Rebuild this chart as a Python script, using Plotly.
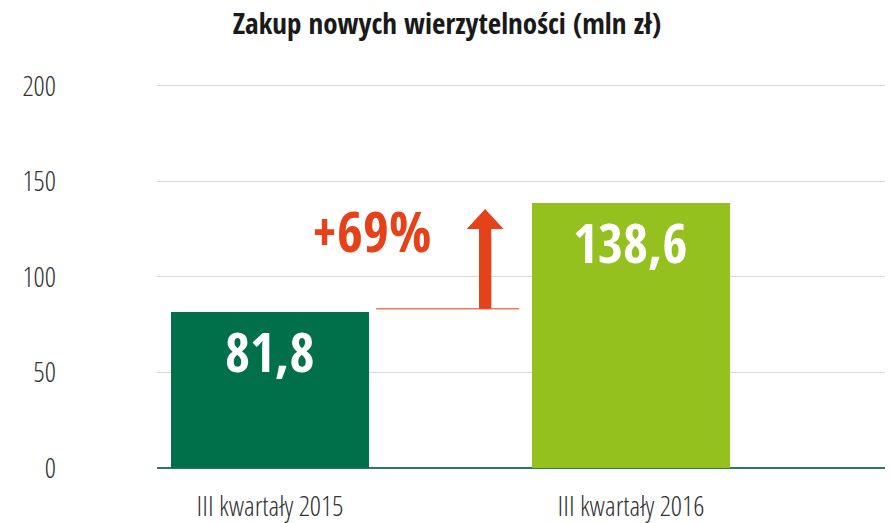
import plotly.graph_objects as go

categories = ["III kwartały 2015", "III kwartały 2016"]
values = [81.8, 138.6]
value_labels = ["81,8", "138,6"]
bar_colors = ["#00704A", "#95C11F"]
growth_label = "+69%"
y_ticks = [0, 50, 100, 150, 200]

FONT = "Open Sans Condensed, Roboto Condensed, sans-serif"
LIGHT = "Open Sans Condensed Light, Roboto Condensed, sans-serif"
RED = "#E6421A"

xpos = list(range(len(categories)))
bar_w = 0.546

fig = go.Figure()
fig.add_trace(go.Bar(
    x=xpos, y=values, width=bar_w,
    marker=dict(color=bar_colors, line=dict(width=0)),
    hoverinfo="skip", showlegend=False,
))

# value labels near the top of each bar
for xv, v, lab in zip(xpos, values, value_labels):
    fig.add_annotation(x=xv, y=v, text=lab, showarrow=False, xanchor="center",
                       yanchor="middle", yshift=-39,
                       font=dict(family=FONT, size=54, color="white", weight="bold"))

# connector line at the level of the first value
x_line0 = xpos[0] + 0.294
x_line1 = xpos[0] + 0.690
fig.add_shape(type="line", x0=x_line0, x1=x_line1, y0=values[0] + 1.5, y1=values[0] + 1.5,
              line=dict(color="#EE7A5C", width=1.5), layer="above")

# arrow (derived from values)
ax = xpos[0] + 0.596
shaft_hw = 0.017
head_hw = 0.051
base = values[0] + 1.5
tip = values[1] - 3.0
head_base = tip - 10.5
path = (f"M {ax - shaft_hw} {base} L {ax - shaft_hw} {head_base} L {ax - head_hw} {head_base} "
        f"L {ax} {tip} L {ax + head_hw} {head_base} L {ax + shaft_hw} {head_base} "
        f"L {ax + shaft_hw} {base} Z")
fig.add_shape(type="path", path=path, fillcolor=RED, line=dict(width=0), layer="above")

fig.add_annotation(x=xpos[0] + 0.28, y=124.5, text=growth_label, showarrow=False,
                   xanchor="center", yanchor="middle",
                   font=dict(family=FONT, size=56, color=RED, weight="bold"))

fig.update_layout(
    width=885, height=515,
    margin=dict(l=149, r=5, t=76, b=55, autoexpand=False),
    paper_bgcolor="white", plot_bgcolor="white",
    title=dict(text="Zakup nowych wierzytelności (mln zł)", x=439 / 885, xref="container",
               xanchor="center", y=1 - 16 / 515, yanchor="middle",
               font=dict(family=FONT, size=29, color="#1a1a1a", weight="bold")),
    bargap=0,
)
fig.update_xaxes(range=[-0.313, 1.712], tickvals=xpos, ticktext=categories,
                 showgrid=False, zeroline=False, showline=False, ticks="",
                 tickfont=dict(family=LIGHT, size=28, color="#333333", weight="normal"),
                 ticklabelstandoff=19, automargin=False, fixedrange=True)
fig.update_yaxes(range=[0, 201], tickvals=y_ticks, showgrid=True, gridcolor="#D9D9D9",
                 gridwidth=1, zeroline=True, zerolinecolor="#2B7A5C", zerolinewidth=2,
                 showline=False, ticks="",
                 tickfont=dict(family=LIGHT, size=28, color="#333333", weight="normal"),
                 ticklabelstandoff=100, automargin=False, fixedrange=True)

fig.write_html("out.html")
